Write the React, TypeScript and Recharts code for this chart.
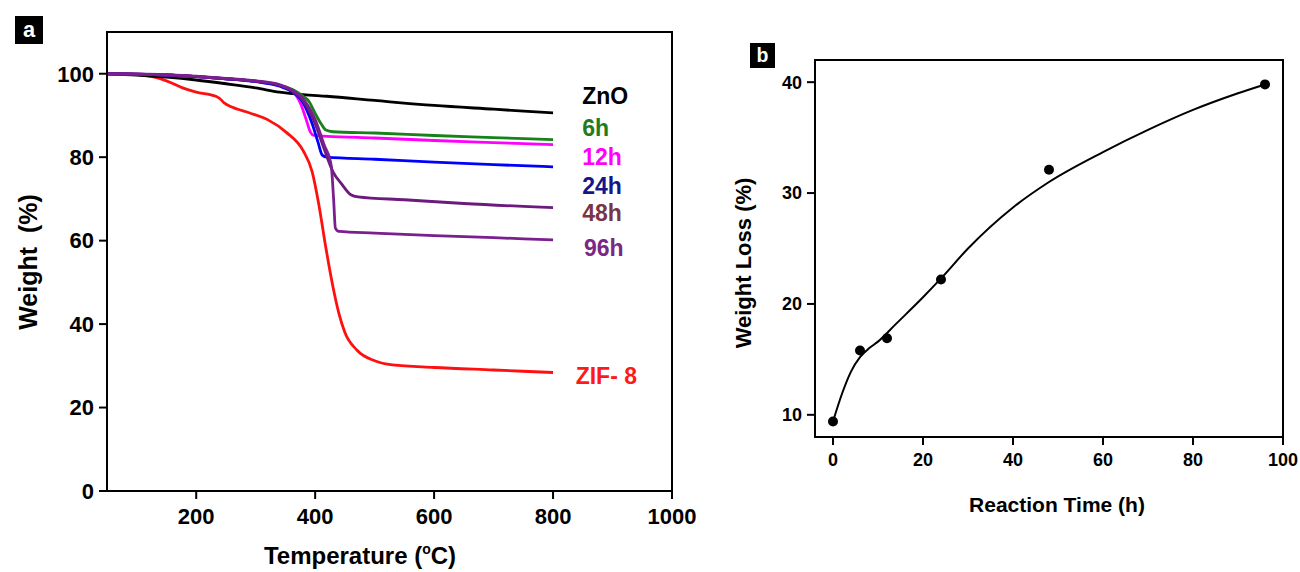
import React from 'react';
import {
  LineChart,
  ComposedChart,
  Line,
  Scatter,
  XAxis,
  YAxis,
  ReferenceArea,
  ReferenceDot,
} from 'recharts';

const FONT = '"Liberation Sans", Arial, Helvetica, sans-serif';

// ---------- Panel a: TGA curves (temperature °C, weight %) ----------
const tempTicks = [200, 400, 600, 800, 1000];
const weightTicks = [0, 20, 40, 60, 80, 100];

const znoCurve: [number, number][] = [
  [50, 100], [100, 99.7], [150, 99.2], [200, 98.5], [250, 97.6], [300, 96.6],
  [340, 95.6], [380, 95.0], [420, 94.6], [500, 93.6], [600, 92.4], [700, 91.5], [800, 90.6],
];
const h6Curve: [number, number][] = [
  [50, 100], [100, 99.9], [150, 99.7], [200, 99.3], [250, 98.8], [300, 98.2], [340, 97.2],
  [365, 96.0], [380, 94.6], [390, 93.3], [400, 90.5], [410, 88.0], [418, 86.5], [430, 86.1],
  [500, 85.8], [600, 85.2], [700, 84.7], [800, 84.2],
];
const h12Curve: [number, number][] = [
  [50, 100], [100, 99.9], [150, 99.7], [200, 99.3], [250, 98.8], [300, 98.2], [340, 97.2],
  [360, 96.0], [375, 93.0], [385, 89.0], [392, 86.0], [398, 85.2], [420, 85.0],
  [500, 84.6], [600, 84.0], [700, 83.5], [800, 83.0],
];
const h24Curve: [number, number][] = [
  [50, 100], [100, 99.9], [150, 99.7], [200, 99.3], [250, 98.8], [300, 98.1], [340, 97.0],
  [360, 95.8], [380, 93.0], [395, 88.0], [405, 83.5], [412, 80.5], [420, 80.0],
  [500, 79.5], [600, 78.8], [700, 78.2], [800, 77.7],
];
const h48Curve: [number, number][] = [
  [50, 100], [100, 99.9], [150, 99.7], [200, 99.3], [250, 98.8], [300, 98.2], [340, 97.2],
  [360, 96.0], [380, 93.5], [400, 88.0], [415, 82.0], [430, 76.5], [445, 73.5], [460, 71.0],
  [472, 70.5], [550, 69.8], [650, 68.9], [800, 67.9],
];
const h96Curve: [number, number][] = [
  [50, 100], [100, 99.9], [150, 99.8], [200, 99.4], [250, 98.9], [300, 98.3], [340, 97.4],
  [360, 96.2], [380, 94.0], [400, 89.0], [415, 83.0], [427, 78.0], [431, 70.0], [434, 63.0],
  [440, 62.2], [500, 61.8], [600, 61.2], [700, 60.7], [800, 60.2],
];
const zif8Curve: [number, number][] = [
  [50, 100], [100, 99.8], [130, 99.2], [150, 98.3], [177, 96.6], [200, 95.6], [233, 94.6],
  [240, 94.0], [247, 93.0], [260, 92.0], [290, 90.6], [320, 89.0], [351, 86.0], [380, 81.5],
  [395, 76.5], [406, 68.8], [418, 58.3], [429, 49.6], [440, 42.5], [450, 38.0], [470, 33.8],
  [500, 31.2], [530, 30.2], [600, 29.6], [700, 29.0], [800, 28.4],
];

const seriesNames = ['ZIF- 8', 'ZnO', '6h', '12h', '24h', '48h', '96h'];
const seriesCurves = [zif8Curve, znoCurve, h6Curve, h12Curve, h24Curve, h48Curve, h96Curve];

// styles / label placement (kept apart from the data)
const lineColors = ['#ff1010', '#000000', '#17821a', '#ff00ff', '#0000ff', '#6c1a7e', '#7a1f8e'];
const labelColors = ['#ff1a1a', '#000000', '#1e7d1e', '#ff00ff', '#16168a', '#7a3545', '#7b2785'];
const labelAt: [number, number][] = [
  [838, 27.7], [849, 94.6], [849, 87.0], [849, 80.2], [849, 73.2], [849, 66.6], [852, 58.3],
];

// ---------- Panel b: weight loss vs reaction time ----------
const timeTicks = [0, 20, 40, 60, 80, 100];
const lossTicks = [10, 20, 30, 40];
const reactionTimes = [0, 6, 12, 24, 48, 96];
const weightLoss = [9.4, 15.8, 16.9, 22.2, 32.1, 39.8];
const fitTimes = [0, 2, 4, 6, 8, 10, 14, 20, 24, 30, 40, 48, 60, 70, 80, 90, 96];
const fitLoss = [9.4, 11.9, 13.9, 15.2, 16.0, 16.6, 18.2, 20.6, 22.3, 25.0, 28.7, 31.0, 33.7, 35.7, 37.5, 39.0, 39.8];

const toPts = (c: [number, number][]) => c.map(([t, w]) => ({ t, w }));

const tickStyleA = { fill: '#000', fontSize: 22, fontWeight: 'bold', fontFamily: FONT };
const tickStyleB = { fill: '#000', fontSize: 18, fontWeight: 'bold', fontFamily: FONT };
const axisLine = { stroke: '#000', strokeWidth: 2 };

function PanelTag({ letter, left, top, size }: { letter: string; left: number; top: number; size: number }) {
  return (
    <div
      style={{
        position: 'absolute',
        left,
        top,
        width: size,
        height: size,
        background: '#000',
        color: '#fff',
        fontFamily: FONT,
        fontWeight: 'bold',
        fontSize: size * 0.78,
        lineHeight: `${size}px`,
        textAlign: 'center',
      }}
    >
      {letter}
    </div>
  );
}

const Dot = (props: any) => <circle cx={props.cx} cy={props.cy} r={5} fill="#000" />;

export default function App() {
  const dataA = seriesCurves.map(toPts);
  const scatterData = reactionTimes.map((t, i) => ({ t, l: weightLoss[i] }));
  const fitData = fitTimes.map((t, i) => ({ t, l: fitLoss[i] }));

  return (
    <div style={{ position: 'absolute', left: 0, top: 0, width: 1300, height: 572, background: '#fff' }}>
      <PanelTag letter="a" left={15} top={16} size={28} />
      <PanelTag letter="b" left={750} top={43} size={25} />

      <div style={{ position: 'absolute', left: 0, top: 0 }}>
        <LineChart width={700} height={572} margin={{ top: 32, right: 28, bottom: 21, left: 47 }}>
          <XAxis
            type="number"
            dataKey="t"
            domain={[50, 1000]}
            ticks={tempTicks}
            allowDataOverflow
            height={60}
            tick={tickStyleA}
            tickSize={8}
            tickMargin={9}
            axisLine={axisLine}
            tickLine={axisLine}
          />
          <YAxis
            type="number"
            dataKey="w"
            domain={[0, 110]}
            ticks={weightTicks}
            allowDataOverflow
            width={60}
            tick={tickStyleA}
            tickSize={8}
            tickMargin={5}
            axisLine={axisLine}
            tickLine={axisLine}
          />
          <ReferenceArea x1={50} x2={1000} y1={0} y2={110} fill="none" stroke="#000" strokeWidth={2} ifOverflow="visible" />
          {dataA.map((d, i) => (
            <Line
              key={seriesNames[i]}
              data={d}
              dataKey="w"
              type="monotone"
              stroke={lineColors[i]}
              strokeWidth={2.8}
              dot={false}
              activeDot={false}
              isAnimationActive={false}
            />
          ))}
          {seriesNames.map((n, i) => (
            <ReferenceDot
              key={'lbl' + n}
              x={labelAt[i][0]}
              y={labelAt[i][1]}
              r={0}
              fill="none"
              stroke="none"
              ifOverflow="visible"
              label={{
                value: n,
                position: 'right',
                offset: 0,
                fill: labelColors[i],
                fontSize: 23,
                fontWeight: 'bold',
                fontFamily: FONT,
              }}
            />
          ))}
          <text
            x={360}
            y={564}
            textAnchor="middle"
            fontSize={24}
            fontWeight="bold"
            fontFamily={FONT}
            fill="#000"
          >
            Temperature (<tspan dy={-10} fontSize={14}>o</tspan>
            <tspan dy={10}>C)</tspan>
          </text>
          <text
            transform="translate(37,262) rotate(-90)"
            textAnchor="middle"
            fontSize={25}
            fontWeight="bold"
            fontFamily={FONT}
            fill="#000"
            style={{ whiteSpace: 'pre' }}
          >
            {'Weight  (%)'}
          </text>
        </LineChart>
      </div>

      <div style={{ position: 'absolute', left: 700, top: 0 }}>
        <ComposedChart width={600} height={572} margin={{ top: 60, right: 17, bottom: 85, left: 55 }}>
          <XAxis
            type="number"
            dataKey="t"
            domain={[-4, 100]}
            ticks={timeTicks}
            allowDataOverflow
            height={50}
            tick={tickStyleB}
            tickSize={8}
            tickMargin={8}
            axisLine={axisLine}
            tickLine={axisLine}
          />
          <YAxis
            type="number"
            dataKey="l"
            domain={[8, 42]}
            ticks={lossTicks}
            allowDataOverflow
            width={60}
            tick={tickStyleB}
            tickSize={8}
            tickMargin={5}
            axisLine={axisLine}
            tickLine={axisLine}
          />
          <ReferenceArea x1={-4} x2={100} y1={8} y2={42} fill="none" stroke="#000" strokeWidth={2} ifOverflow="visible" />
          <Line
            data={fitData}
            dataKey="l"
            type="monotone"
            stroke="#000"
            strokeWidth={2}
            dot={false}
            activeDot={false}
            isAnimationActive={false}
          />
          <Scatter data={scatterData} dataKey="l" fill="#000" shape={<Dot />} isAnimationActive={false} />
          <text
            x={357}
            y={512}
            textAnchor="middle"
            fontSize={21}
            fontWeight="bold"
            fontFamily={FONT}
            fill="#000"
          >
            Reaction Time (h)
          </text>
          <text
            transform="translate(51,263) rotate(-90)"
            textAnchor="middle"
            fontSize={22}
            fontWeight="bold"
            fontFamily={FONT}
            fill="#000"
          >
            Weight Loss (%)
          </text>
        </ComposedChart>
      </div>
    </div>
  );
}
